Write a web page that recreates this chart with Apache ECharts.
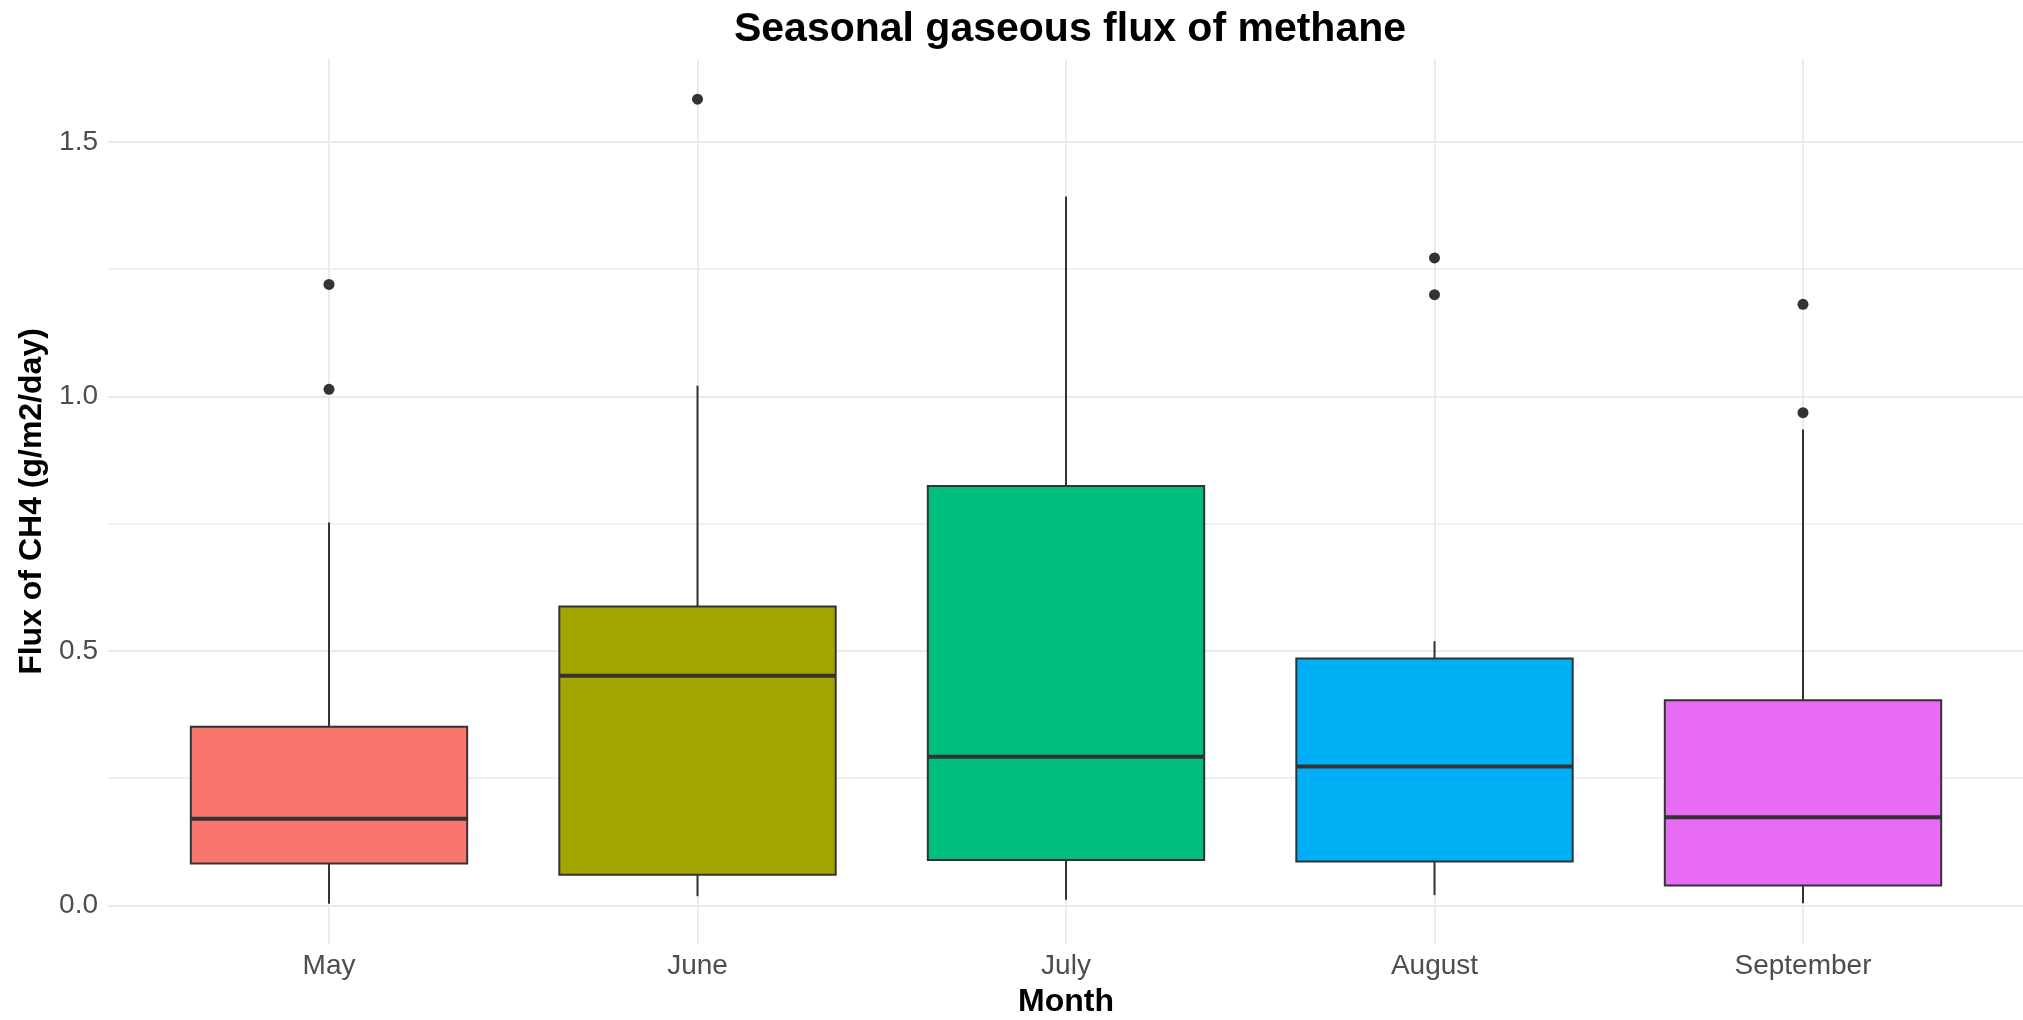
<!DOCTYPE html>
<html>
<head>
<meta charset="utf-8">
<title>Seasonal gaseous flux of methane</title>
<script src="https://cdn.jsdelivr.net/npm/echarts@6/dist/echarts.min.js"></script>
<style>
  html, body { margin: 0; padding: 0; background: #ffffff; }
  #chart { width: 2023px; height: 1020px; }
</style>
</head>
<body>
<div id="chart"></div>
<script>
// box statistics per month
const months = ["May", "June", "July", "August", "September"];
const whiskerLow = [0.003, 0.018, 0.011, 0.020, 0.004];
const q1 = [0.082, 0.060, 0.089, 0.086, 0.039];
const median = [0.170, 0.451, 0.292, 0.273, 0.173];
const q3 = [0.351, 0.587, 0.824, 0.485, 0.403];
const whiskerHigh = [0.752, 1.021, 1.393, 0.519, 0.935];

// outlier points
const outlierMonth = ["May", "May", "June", "August", "August", "September", "September"];
const outlierValue = [1.220, 1.014, 1.584, 1.272, 1.200, 1.181, 0.968];

const fillColors = ["#F8766D", "#A3A500", "#00BF7D", "#00B0F6", "#E76BF3"];
const lineColor = "#333333";
const gridColor = "#EBEBEB";
const fontFamily = "'Liberation Sans', Arial, Helvetica, sans-serif";

// y range as ggplot expands it (5% each side)
const yMin = -0.076;
const yMax = 1.663;

const plotTop = 59;
const plotBottom = 76;
const plotHeight = 1020 - plotTop - plotBottom;

const chart = echarts.init(document.getElementById("chart"), null, { renderer: "canvas" });

const boxData = months.map((m, i) => [i, whiskerLow[i], q1[i], median[i], q3[i], whiskerHigh[i]]);
const outlierData = outlierMonth.map((m, i) => [m, outlierValue[i]]);

const renderBox = (params, api) => {
  const x = api.value(0);
  const lo = api.coord([x, api.value(1)]);
  const b1 = api.coord([x, api.value(2)]);
  const md = api.coord([x, api.value(3)]);
  const b3 = api.coord([x, api.value(4)]);
  const hi = api.coord([x, api.value(5)]);
  const half = api.size([1, 0])[0] * 0.375;
  const stroke = { stroke: lineColor, lineWidth: 2 };
  return {
    type: "group",
    children: [
      { type: "line", shape: { x1: lo[0], y1: lo[1], x2: b1[0], y2: b1[1] }, style: stroke },
      { type: "line", shape: { x1: b3[0], y1: b3[1], x2: hi[0], y2: hi[1] }, style: stroke },
      {
        type: "rect",
        shape: { x: b3[0] - half, y: b3[1], width: half * 2, height: b1[1] - b3[1] },
        style: { fill: fillColors[params.dataIndex], stroke: lineColor, lineWidth: 2 }
      },
      {
        type: "line",
        shape: { x1: md[0] - half, y1: md[1], x2: md[0] + half, y2: md[1] },
        style: { stroke: lineColor, lineWidth: 4 }
      }
    ]
  };
};

chart.setOption({
  animation: false,
  backgroundColor: "#ffffff",
  textStyle: { fontFamily },
  title: {
    text: "Seasonal gaseous flux of methane",
    left: 1065,
    textAlign: "center",
    top: 4,
    textStyle: { fontSize: 41, fontWeight: "bold", color: "#000000", fontFamily }
  },
  grid: [
    // boxes: one band per month
    { left: 144.75, right: 35.75, top: plotTop, bottom: plotBottom, outerBoundsMode: "none", containLabel: false },
    // full panel, for the horizontal grid lines
    { left: 108, right: 0, top: plotTop, bottom: plotBottom, outerBoundsMode: "none", containLabel: false }
  ],
  xAxis: [
    {
      type: "category",
      gridIndex: 0,
      data: months,
      boundaryGap: true,
      name: "Month",
      nameLocation: "middle",
      nameGap: 42,
      nameTextStyle: { fontSize: 32, fontWeight: "bold", color: "#000000", fontFamily },
      axisLine: { show: false, onZero: false },
      axisTick: {
        show: true,
        alignWithLabel: true,
        inside: true,
        length: plotHeight,
        lineStyle: { color: gridColor, width: 2 }
      },
      axisLabel: { fontSize: 28, color: "#4D4D4D", margin: 8, fontFamily },
      splitLine: { show: false }
    },
    {
      type: "value",
      gridIndex: 1,
      min: 0,
      max: 1,
      show: false
    }
  ],
  yAxis: [
    {
      type: "value",
      gridIndex: 0,
      min: yMin,
      max: yMax,
      show: false,
      splitLine: { show: false }
    },
    {
      type: "value",
      gridIndex: 1,
      min: yMin,
      max: yMax,
      splitNumber: 4,
      name: "Flux of CH4 (g/m2/day)",
      nameLocation: "middle",
      nameGap: 51,
      nameTextStyle: { fontSize: 32, fontWeight: "bold", color: "#000000", fontFamily },
      axisLine: { show: false },
      axisTick: { show: false },
      axisLabel: {
        fontSize: 28,
        color: "#4D4D4D",
        margin: 10,
        fontFamily,
        showMinLabel: false,
        showMaxLabel: false,
        formatter: (v) => v.toFixed(1)
      },
      splitLine: {
        show: true,
        showMinLine: false,
        showMaxLine: false,
        lineStyle: { color: gridColor, width: 2 }
      },
      minorTick: { show: false, splitNumber: 2 },
      minorSplitLine: { show: true, lineStyle: { color: gridColor, width: 1.5 } }
    }
  ],
  series: [
    {
      type: "custom",
      name: "flux",
      xAxisIndex: 0,
      yAxisIndex: 0,
      renderItem: renderBox,
      encode: { x: 0, y: [1, 2, 3, 4, 5] },
      data: boxData,
      z: 3
    },
    {
      type: "scatter",
      name: "outliers",
      xAxisIndex: 0,
      yAxisIndex: 0,
      symbol: "circle",
      symbolSize: 11,
      itemStyle: { color: lineColor, opacity: 1 },
      data: outlierData,
      z: 4
    }
  ]
});
</script>
</body>
</html>
